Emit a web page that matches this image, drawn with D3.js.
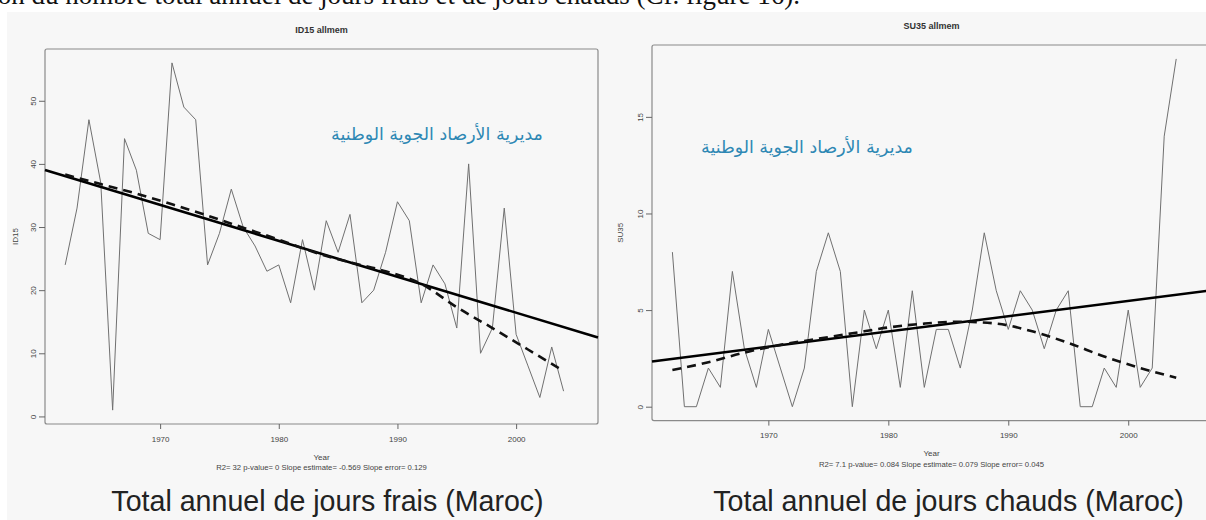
<!DOCTYPE html>
<html>
<head>
<meta charset="utf-8">
<script src="https://cdn.jsdelivr.net/npm/d3@7"></script>
<style>
  body { margin: 0; background: #fff; }
  svg { display: block; }
</style>
</head>
<body>
<svg id="chart" width="1206" height="520"></svg>
<script>
// Annual counts of cool days (ID15) and hot days (SU35), Morocco
const years = [1962, 1963, 1964, 1965, 1966, 1967, 1968, 1969, 1970, 1971,
               1972, 1973, 1974, 1975, 1976, 1977, 1978, 1979, 1980, 1981,
               1982, 1983, 1984, 1985, 1986, 1987, 1988, 1989, 1990, 1991,
               1992, 1993, 1994, 1995, 1996, 1997, 1998, 1999, 2000, 2001,
               2002, 2003, 2004];
const coldDays = [24, 33, 47, 37, 1, 44, 39, 29, 28, 56,
                  49, 47, 24, 29, 36, 30, 27, 23, 24, 18,
                  28, 20, 31, 26, 32, 18, 20, 26, 34, 31,
                  18, 24, 21, 14, 40, 10, 14, 33, 13, 8,
                  3, 11, 4];
const hotDays = [8, 0, 0, 2, 1, 7, 3, 1, 4, 2,
                 0, 2, 7, 9, 7, 0, 5, 3, 5, 1,
                 6, 1, 4, 4, 2, 5, 9, 6, 4, 6,
                 5, 3, 5, 6, 0, 0, 2, 1, 5, 1,
                 2, 14, 18];

// Locally weighted smooth (dashed curves)
const smoothYears = [1962, 1965, 1968, 1971, 1974, 1977, 1980, 1983, 1986, 1989, 1992, 1995, 1998, 2001, 2004];
const coldSmooth = [38.3, 36.8, 35.3, 33.6, 31.8, 29.9, 28.0, 26.0, 24.4, 23.0, 21.0, 17.3, 14.0, 10.6, 7.2];
const hotSmooth  = [1.9, 2.3, 2.8, 3.2, 3.5, 3.8, 4.1, 4.3, 4.4, 4.3, 3.9, 3.3, 2.6, 2.0, 1.5];

// Least-squares trend: value at 1983 and slope per year
const trendAt1983 = [26.1, 4.13];
const trendSlope = [-0.569, 0.079];

const yearTicks = [1970, 1980, 1990, 2000];
const coldTicks = [0, 10, 20, 30, 40, 50];
const hotTicks = [0, 5, 10, 15];

const panelTitles = ["ID15   allmem", "SU35   allmem"];
const yLabels = ["ID15", "SU35"];
const statLines = [
  "R2= 32   p-value= 0   Slope estimate= -0.569   Slope error= 0.129",
  "R2= 7.1   p-value= 0.084   Slope estimate= 0.079   Slope error= 0.045"
];
const captions = ["Total annuel de jours frais (Maroc)", "Total annuel de jours chauds (Maroc)"];
const stamp = "مديرية الأرصاد الجوية الوطنية";
const headline = "Évolution du nombre total annuel de jours frais et de jours chauds (Cf. figure 16).";

const svg = d3.select("#chart");
const sans = "Liberation Sans, Arial, sans-serif";

// page background and the running text line above the figures
svg.append("rect").attr("x", 0).attr("y", 0).attr("width", 1206).attr("height", 520).attr("fill", "#fff");
svg.append("text")
  .attr("x", 800).attr("y", 4)
  .attr("text-anchor", "end")
  .attr("font-family", "Liberation Serif, serif")
  .attr("font-size", 27)
  .attr("fill", "#111")
  .text(headline);
svg.append("rect").attr("x", 7).attr("y", 12).attr("width", 1199).attr("height", 508).attr("fill", "#f7f7f7");

const panels = [
  {
    values: coldDays, smooth: coldSmooth, k: 0,
    box: { x0: 45, x1: 598, y0: 49, y1: 424 },
    xDomain: [1960.3, 2006.9], yDomain: [-1.2, 58.2], yTicks: coldTicks,
    titleY: 33, tickLabelY: 441, yearY: 460, statY: 469.5, yLabelX: 15,
    stampX: 437, stampY: 134, captionX: 327.5
  },
  {
    values: hotDays, smooth: hotSmooth, k: 1,
    box: { x0: 652, x1: 1211, y0: 45, y1: 420.6 },
    xDomain: [1960.3, 2006.9], yDomain: [-0.72, 18.72], yTicks: hotTicks,
    titleY: 29, tickLabelY: 437, yearY: 456, statY: 467, yLabelX: 620,
    stampX: 807, stampY: 147, captionX: 948.5
  }
];

panels.forEach(p => {
  const g = svg.append("g");
  const x = d3.scaleLinear().domain(p.xDomain).range([p.box.x0, p.box.x1]);
  const y = d3.scaleLinear().domain(p.yDomain).range([p.box.y1, p.box.y0]);
  const cx = (p.box.x0 + p.box.x1) / 2;

  // plot frame
  g.append("rect")
    .attr("x", p.box.x0).attr("y", p.box.y0)
    .attr("width", p.box.x1 - p.box.x0).attr("height", p.box.y1 - p.box.y0)
    .attr("fill", "none").attr("stroke", "#8a8a8a").attr("stroke-width", 1.2)
    .attr("rx", 2);

  // axes
  const xAxis = d3.axisBottom(x).tickValues(yearTicks).tickFormat(d3.format("d")).tickSize(5).tickPadding(7);
  const gx = g.append("g").attr("transform", `translate(0,${p.box.y1})`).call(xAxis);
  gx.select(".domain").remove();
  gx.selectAll("line").attr("stroke", "#666");
  gx.selectAll("text").attr("font-family", sans).attr("font-size", 8).attr("fill", "#444");

  const yAxis = d3.axisLeft(y).tickValues(p.yTicks).tickSize(6).tickFormat(d3.format("d"));
  const gy = g.append("g").attr("transform", `translate(${p.box.x0},0)`).call(yAxis);
  gy.select(".domain").remove();
  gy.selectAll("line").attr("stroke", "#666");
  gy.selectAll("text")
    .attr("font-family", sans).attr("font-size", 8).attr("fill", "#444")
    .attr("x", null).attr("dy", null)
    .attr("text-anchor", "middle")
    .attr("transform", "translate(-12,0) rotate(-90)")
    .attr("dominant-baseline", "central");

  // titles and annotations
  g.append("text").attr("x", cx).attr("y", p.titleY).attr("text-anchor", "middle")
    .attr("font-family", sans).attr("font-size", 9).attr("font-weight", "bold")
    .attr("fill", "#333").text(panelTitles[p.k]);
  g.append("text")
    .attr("transform", `translate(${p.yLabelX},${(p.box.y0 + p.box.y1) / 2}) rotate(-90)`)
    .attr("text-anchor", "middle").attr("dominant-baseline", "central")
    .attr("font-family", sans).attr("font-size", 8).attr("fill", "#444")
    .text(yLabels[p.k]);
  g.append("text").attr("x", cx).attr("y", p.yearY).attr("text-anchor", "middle")
    .attr("font-family", sans).attr("font-size", 8).attr("fill", "#444").text("Year");
  g.append("text").attr("x", cx).attr("y", p.statY).attr("text-anchor", "middle")
    .attr("font-family", sans).attr("font-size", 7.7).attr("fill", "#444").text(statLines[p.k]);

  // institution stamp
  const st = g.append("text").attr("x", p.stampX).attr("y", p.stampY)
    .attr("text-anchor", "middle").attr("dominant-baseline", "central")
    .attr("font-family", "DejaVu Sans, sans-serif").attr("font-size", 15)
    .attr("fill", "#2e88b4").attr("direction", "rtl").text(stamp);
  const w = st.node().getComputedTextLength();
  if (w > 0) st.attr("font-size", 15 * 212 / w);

  // caption below the figure
  g.append("text").attr("x", p.captionX).attr("y", 511).attr("text-anchor", "middle")
    .attr("font-family", sans).attr("font-size", 28.6).attr("fill", "#222")
    .text(captions[p.k]);

  // annual series
  g.append("path")
    .datum(years.map((yr, i) => [yr, p.values[i]]))
    .attr("fill", "none").attr("stroke", "#707070").attr("stroke-width", 1)
    .attr("d", d3.line().x(d => x(d[0])).y(d => y(d[1])));

  // linear trend across the full frame width
  const trend = yr => trendAt1983[p.k] + trendSlope[p.k] * (yr - 1983);
  g.append("path")
    .datum(p.xDomain)
    .attr("fill", "none").attr("stroke", "#000").attr("stroke-width", 2.6)
    .attr("d", d3.line().x(d => x(d)).y(d => y(trend(d))));

  // smooth curve
  g.append("path")
    .datum(smoothYears.map((yr, i) => [yr, p.smooth[i]]))
    .attr("fill", "none").attr("stroke", "#111").attr("stroke-width", 2.6)
    .attr("stroke-dasharray", "9,6")
    .attr("d", d3.line().curve(d3.curveMonotoneX).x(d => x(d[0])).y(d => y(d[1])));
});
</script>
</body>
</html>
